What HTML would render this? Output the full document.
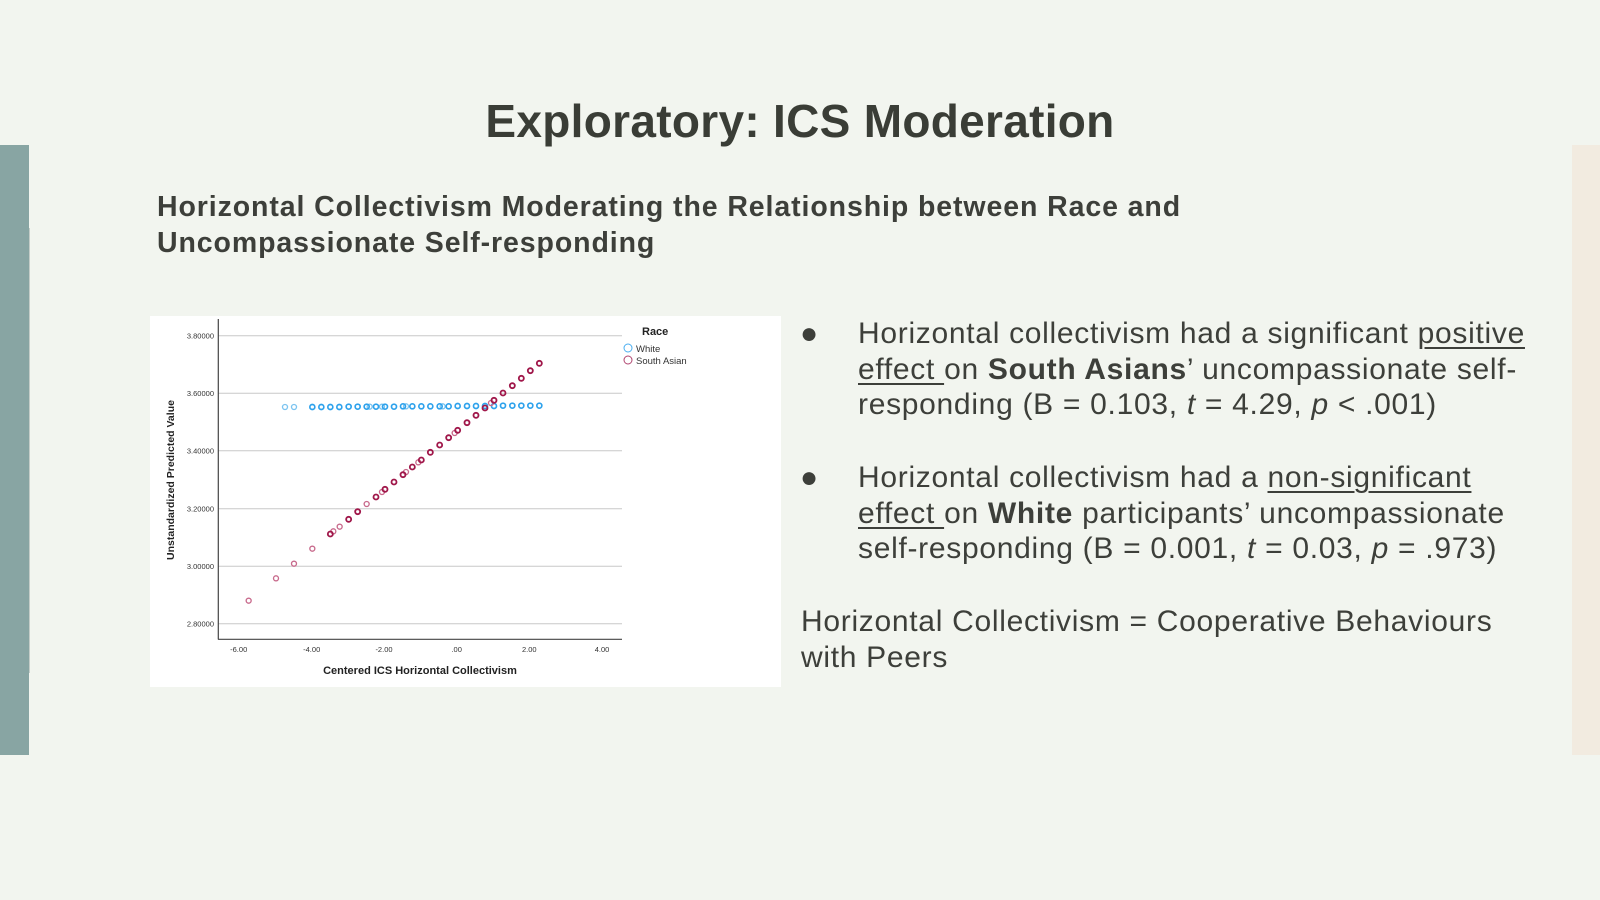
<!DOCTYPE html>
<html><head><meta charset="utf-8"><style>
html,body{margin:0;padding:0}
body{width:1600px;height:900px;background:#f2f5ef;position:relative;overflow:hidden;font-family:"Liberation Sans",sans-serif;color:#3d3f3a}
.abs{position:absolute}
.bt{font-size:30px;line-height:35.7px;white-space:nowrap;letter-spacing:0.7px}
u{text-decoration-thickness:1.5px;text-underline-offset:4px}
</style></head><body>
<div class="abs" style="left:0;top:145px;width:28.6px;height:610px;background:#88a5a3"></div>
<div class="abs" style="left:28.6px;top:228px;width:1.4px;height:445px;background:#c4cdc8"></div>
<div class="abs" style="left:1572px;top:145px;width:28px;height:610px;background:#f2ebe0"></div>
<div class="abs" style="left:0;top:94px;width:1600px;text-align:center;font-size:46px;font-weight:bold;color:#3a3d36;letter-spacing:0.3px">Exploratory: ICS Moderation</div>
<div class="abs" style="left:157px;top:189px;font-size:28.5px;font-weight:bold;line-height:36px;color:#3d3f3a;white-space:nowrap;letter-spacing:0.9px">Horizontal Collectivism Moderating the Relationship between Race and<br>Uncompassionate Self-responding</div>
<div class="abs" style="left:150px;top:316px;width:631px;height:371px;background:#fff"></div>
<svg class="abs" style="left:0;top:0" width="1600" height="900" font-family="Liberation Sans, sans-serif">
<g stroke="#c8c8c8" stroke-width="1">
<line x1="218" x2="622" y1="335.7" y2="335.7"/><line x1="218" x2="622" y1="393.3" y2="393.3"/>
<line x1="218" x2="622" y1="450.7" y2="450.7"/><line x1="218" x2="622" y1="508.7" y2="508.7"/>
<line x1="218" x2="622" y1="566.3" y2="566.3"/><line x1="218" x2="622" y1="623.7" y2="623.7"/>
</g>
<line x1="218.3" x2="218.3" y1="319" y2="639.5" stroke="#444" stroke-width="1.2"/>
<line x1="218" x2="622" y1="639.3" y2="639.3" stroke="#444" stroke-width="1.2"/>
<g font-size="7.5" fill="#333" text-anchor="end">
<text x="214" y="338.5">3.80000</text><text x="214" y="396">3.60000</text><text x="214" y="453.5">3.40000</text>
<text x="214" y="511.5">3.20000</text><text x="214" y="569">3.00000</text><text x="214" y="626.5">2.80000</text>
</g>
<g font-size="7.5" fill="#333" text-anchor="middle">
<text x="238.7" y="652">-6.00</text><text x="311.7" y="652">-4.00</text><text x="384" y="652">-2.00</text>
<text x="456.7" y="652">.00</text><text x="529.3" y="652">2.00</text><text x="602" y="652">4.00</text>
</g>
<text x="420" y="674" font-size="11" font-weight="bold" text-anchor="middle" fill="#222">Centered ICS Horizontal Collectivism</text>
<text transform="translate(174,480) rotate(-90)" font-size="10.5" font-weight="bold" text-anchor="middle" fill="#222">Unstandardized Predicted Value</text>
<text x="642" y="335" font-size="11" font-weight="bold" fill="#222">Race</text>
<circle cx="628" cy="348" r="4" fill="none" stroke="#4aaef0" stroke-width="1"/>
<circle cx="628" cy="360" r="4" fill="none" stroke="#b0446f" stroke-width="1"/>
<text x="636" y="352" font-size="9.5" fill="#333">White</text>
<text x="636" y="364" font-size="9.5" fill="#333">South Asian</text>
<g transform="translate(150,310) scale(0.33333)" fill="none" stroke-width="4">
<g stroke="#7cc4f0">
<circle cx="405" cy="291" r="7.5"/><circle cx="432" cy="291" r="7.5"/><circle cx="659" cy="290" r="7.5"/><circle cx="696" cy="290" r="7.5"/><circle cx="768" cy="289" r="7.5"/><circle cx="878" cy="289" r="7.5"/>
</g>
<g stroke="#2ea2ec" stroke-width="5">
<circle cx="487" cy="291" r="7.5"/><circle cx="514" cy="291" r="7.5"/><circle cx="541" cy="291" r="7.5"/><circle cx="568" cy="291" r="7.5"/><circle cx="596" cy="290" r="7.5"/><circle cx="623" cy="290" r="7.5"/><circle cx="650" cy="290" r="7.5"/><circle cx="678" cy="290" r="7.5"/><circle cx="705" cy="290" r="7.5"/><circle cx="732" cy="290" r="7.5"/><circle cx="759" cy="289" r="7.5"/><circle cx="787" cy="289" r="7.5"/><circle cx="814" cy="289" r="7.5"/><circle cx="841" cy="289" r="7.5"/><circle cx="869" cy="289" r="7.5"/><circle cx="896" cy="289" r="7.5"/><circle cx="923" cy="288" r="7.5"/><circle cx="951" cy="288" r="7.5"/><circle cx="978" cy="288" r="7.5"/><circle cx="1005" cy="288" r="7.5"/><circle cx="1032" cy="288" r="7.5"/><circle cx="1059" cy="287" r="7.5"/><circle cx="1087" cy="287" r="7.5"/><circle cx="1114" cy="287" r="7.5"/><circle cx="1141" cy="287" r="7.5"/><circle cx="1168" cy="287" r="7.5"/>
</g>
<g stroke="#c86a8c">
<circle cx="296" cy="872" r="7.5"/><circle cx="378" cy="805" r="7.5"/><circle cx="432" cy="761" r="7.5"/><circle cx="487" cy="716" r="7.5"/><circle cx="550" cy="664" r="7.5"/><circle cx="569" cy="650" r="7.5"/><circle cx="650" cy="582" r="7.5"/><circle cx="696" cy="546" r="7.5"/><circle cx="768" cy="486" r="7.5"/><circle cx="805" cy="457" r="7.5"/><circle cx="914" cy="369" r="7.5"/><circle cx="1023" cy="279" r="7.5"/>
</g>
<g stroke="#a0174a" stroke-width="5.5">
<circle cx="541" cy="672" r="7.5"/><circle cx="596" cy="628" r="7.5"/><circle cx="623" cy="605" r="7.5"/><circle cx="678" cy="561" r="7.5"/><circle cx="705" cy="538" r="7.5"/><circle cx="732" cy="516" r="7.5"/><circle cx="759" cy="494" r="7.5"/><circle cx="787" cy="471" r="7.5"/><circle cx="814" cy="450" r="7.5"/><circle cx="841" cy="427" r="7.5"/><circle cx="869" cy="405" r="7.5"/><circle cx="896" cy="383" r="7.5"/><circle cx="923" cy="361" r="7.5"/><circle cx="951" cy="338" r="7.5"/><circle cx="978" cy="316" r="7.5"/><circle cx="1005" cy="294" r="7.5"/><circle cx="1032" cy="271" r="7.5"/><circle cx="1059" cy="249" r="7.5"/><circle cx="1087" cy="227" r="7.5"/><circle cx="1114" cy="205" r="7.5"/><circle cx="1141" cy="182" r="7.5"/><circle cx="1168" cy="160" r="7.5"/>
</g>
</g>
</svg>
<div class="abs bt" style="left:800px;top:316px">●</div>
<div class="abs bt" style="left:858px;top:316px">Horizontal collectivism had a significant <u>positive</u><br><u>effect </u>on <b>South Asians</b>’ uncompassionate self-<br>responding (B = 0.103, <i>t</i> = 4.29, <i>p</i> &lt; .001)</div>
<div class="abs bt" style="left:800px;top:460px">●</div>
<div class="abs bt" style="left:858px;top:460px">Horizontal collectivism had a <u>non-significant</u><br><u>effect </u>on <b>White</b> participants’ uncompassionate<br>self-responding (B = 0.001, <i>t</i> = 0.03, <i>p</i> = .973)</div>
<div class="abs bt" style="left:801px;top:604px">Horizontal Collectivism = Cooperative Behaviours<br>with Peers</div>
</body></html>
